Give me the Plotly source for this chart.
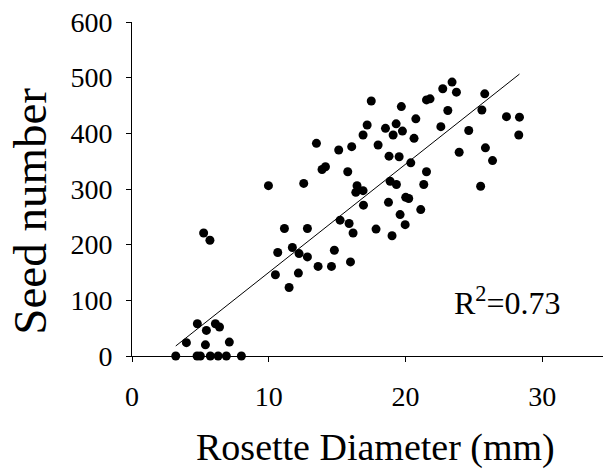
import plotly.graph_objects as go

# Rosette diameter (mm) and seed number
diameter = [3.2, 3.98, 4.76, 5.0, 4.78, 5.44, 5.37, 5.24, 5.7, 6.1, 6.4, 5.73, 6.3, 6.9, 7.12, 8.0,
            9.98, 10.49, 10.66, 11.15, 11.49, 11.73, 12.17, 12.22, 12.56, 12.83, 12.83, 13.49, 13.61,
            13.9, 14.15, 14.59, 14.8, 15.12, 15.22, 15.78, 15.88, 15.98, 16.07, 16.17, 16.46, 16.37,
            16.9, 16.93, 16.9, 17.2, 17.5, 17.85, 18.0, 18.54, 18.76, 18.8, 18.88, 19.02, 19.1, 19.32,
            19.34, 19.54, 19.61, 19.7, 19.78, 19.98, 20.02, 20.24, 20.39, 20.63, 20.76, 21.12, 21.34,
            21.54, 21.54, 21.8, 22.59, 22.73, 23.1, 23.41, 23.73, 23.93, 24.63, 25.5, 25.59, 25.8,
            25.85, 26.37, 27.39, 28.29, 28.34]
seeds = [0, 24, 0, 0, 58, 46, 20, 221, 208, 58, 52, 0, 0, 0, 25, 0,
         306, 146, 186, 229, 123, 195, 149, 184, 310, 229, 178, 382, 161,
         335, 340, 161, 190, 370, 244, 331, 238, 169, 376, 221, 306, 294,
         297, 271, 397, 415, 458, 228, 379, 409, 276, 359, 314, 216, 397, 417,
         308, 358, 254, 448, 404, 236, 285, 283, 347, 391, 426, 263, 308,
         331, 460, 462, 412, 480, 441, 492, 474, 366, 405, 305, 442, 471,
         374, 351, 430, 397, 429]

# Linear trend
trend_slope = 19.43
trend_intercept = -44.2
r2_label = "R<sup>2</sup>=0.73"

x_title = "Rosette Diameter (mm)"
y_title = "Seed number"
x_ticks = [0, 10, 20, 30]
y_ticks = [0, 100, 200, 300, 400, 500, 600]

FONT = "Liberation Serif, Times New Roman, serif"

x_min, x_max = min(diameter), max(diameter)
trend_x = [x_min, x_max]
trend_y = [trend_slope * v + trend_intercept for v in trend_x]

fig = go.Figure()
fig.add_trace(go.Scatter(x=trend_x, y=trend_y, mode="lines",
                         line=dict(color="black", width=1), showlegend=False,
                         hoverinfo="skip"))
fig.add_trace(go.Scatter(x=diameter, y=seeds, mode="markers",
                         marker=dict(color="black", size=9, line=dict(width=0)),
                         showlegend=False, cliponaxis=False))

fig.update_layout(
    width=603, height=470,
    margin=dict(l=132, r=0, t=22, b=114, pad=0),
    paper_bgcolor="white", plot_bgcolor="white",
    font=dict(family=FONT, color="black", size=28),
    xaxis=dict(range=[0, 34.45], tickvals=x_ticks, ticktext=[str(v) for v in x_ticks],
               ticks="outside", ticklen=5,
               tickcolor="black", showline=True, linecolor="black", linewidth=1,
               showgrid=False, zeroline=False, tickfont=dict(family=FONT, size=28, color="black"),
               ticklabelstandoff=10),
    yaxis=dict(range=[0, 600], tickvals=y_ticks, ticktext=[str(v) for v in y_ticks],
               ticks="outside", ticklen=5,
               tickcolor="black", showline=True, linecolor="black", linewidth=1,
               showgrid=False, zeroline=False, tickfont=dict(family=FONT, size=28, color="black"),
               ticklabelstandoff=8),
    annotations=[
        dict(text=x_title, xref="paper", yref="paper", x=0.517, y=-0.2754,
             xanchor="center", yanchor="middle", showarrow=False,
             font=dict(family=FONT, size=38, color="black")),
        dict(text=y_title, xref="paper", yref="paper", x=-0.2166, y=0.435,
             xanchor="center", yanchor="middle", showarrow=False, textangle=-90,
             font=dict(family=FONT, size=47, color="black")),
        dict(text=r2_label, xref="x", yref="y", x=23.41, y=59,
             xanchor="left", yanchor="bottom", showarrow=False,
             font=dict(family=FONT, size=32, color="black")),
    ],
)

fig.write_html("out.html")
